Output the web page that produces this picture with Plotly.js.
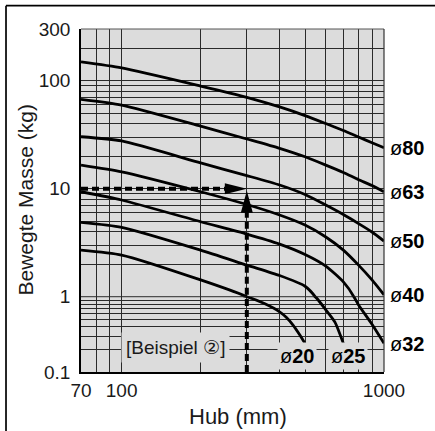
<!DOCTYPE html>
<html><head><meta charset="utf-8">
<script src="https://cdn.plot.ly/plotly-3.0.1.min.js"></script>
<style>html,body{margin:0;padding:0;background:#fff}</style>
</head><body><div id="chart" style="width:435px;height:431px"></div>
<script>
// ---- data ----
const bores = ['80', '63', '50', '40', '32', '25', '20'];
const stroke80 = [70, 100, 200, 300, 400, 500, 600, 700, 800, 900, 1000];
const mass80   = [149, 131, 89, 70, 57, 47.4, 40, 34.5, 30, 26.6, 23.9];
const stroke63 = [70, 100, 200, 300, 400, 500, 600, 700, 800, 900, 1000];
const mass63   = [67, 59.3, 37.9, 28.8, 23.6, 19.7, 16.5, 14.1, 12.1, 10.7, 9.36];
const stroke50 = [70, 100, 200, 300, 400, 500, 600, 700, 800, 900, 1000];
const mass50   = [30.2, 27.6, 17.3, 13.2, 10.8, 8.82, 7.05, 5.76, 4.75, 3.97, 3.27];
const stroke40 = [70, 100, 200, 300, 400, 500, 600, 700, 800, 900, 1000];
const mass40   = [16.5, 14.3, 9.36, 7.13, 5.7, 4.6, 3.57, 2.70, 1.96, 1.43, 1.04];
const stroke32 = [70, 100, 200, 300, 400, 500, 600, 700, 767, 800, 900, 1000];
const mass32   = [9.36, 7.85, 4.94, 3.80, 3.07, 2.46, 1.92, 1.37, 1.0, 0.776, 0.43, 0.24];
const stroke25 = [70, 100, 200, 300, 400, 500, 550, 600, 650, 700];
const mass25   = [4.88, 4.39, 2.70, 1.96, 1.57, 1.25, 0.98, 0.67, 0.46, 0.24];
const stroke20 = [70, 100, 200, 300, 350, 400, 425, 450, 475, 500];
const mass20   = [2.7, 2.43, 1.43, 1.0, 0.81, 0.63, 0.53, 0.42, 0.32, 0.24];

// example (Beispiel 2): stroke 300 mm, mass 10 kg
const exStroke = 300;
const exMass = 10;
const hGuideX = [70, 255];
const vGuideY = [0.1, 6.5];

const xTickVals = [70, 80, 90, 100, 200, 300, 400, 500, 600, 700, 800, 900, 1000];
const xTickText = ['70', '', '', '100', '', '', '', '', '', '', '', '', '1000'];
const yTickValsUpper = [1, 2, 3, 4, 5, 6, 7, 8, 9, 10, 20, 30, 40, 50, 60, 70, 80, 90, 100, 200, 300];
const yTickTextUpper = ['1', '', '', '', '', '', '', '', '', '10', '', '', '', '', '', '', '', '', '100', '', '300'];
const yTickValsLower = [0.1, 0.2, 0.3, 0.4, 0.5, 0.6, 0.7, 0.8, 0.9];
const yTickTextLower = ['0.1', '', '', '', '', '', '', '', ''];

// ---- styling ----
const FONT = 'Liberation Sans, Arial, Helvetica, DejaVu Sans, sans-serif';
const BG = '#dcdcdc';
const GRID = '#2a2a2a';
const SPLIT = 0.2195; // paper fraction where the compressed 0.1-1 decade ends

const curves = [
  [stroke80, mass80], [stroke63, mass63], [stroke50, mass50], [stroke40, mass40],
  [stroke32, mass32], [stroke25, mass25], [stroke20, mass20]
];

const traces = [];
curves.forEach(function (c) {
  const line = {color: '#000', width: 2.8, shape: 'spline', smoothing: 0.6};
  traces.push({x: c[0], y: c[1], xaxis: 'x2', yaxis: 'y', mode: 'lines', line: line, hoverinfo: 'skip'});
  traces.push({x: c[0], y: c[1], xaxis: 'x', yaxis: 'y2', mode: 'lines', line: line, hoverinfo: 'skip'});
});
const dashLine = {color: '#000', width: 4, dash: '7px,4px'};
traces.push({x: hGuideX, y: [exMass, exMass], xaxis: 'x2', yaxis: 'y', mode: 'lines', line: dashLine, hoverinfo: 'skip'});
traces.push({x: [exStroke, exStroke], y: vGuideY, xaxis: 'x2', yaxis: 'y', mode: 'lines', line: dashLine, hoverinfo: 'skip'});
traces.push({x: [exStroke, exStroke], y: vGuideY, xaxis: 'x', yaxis: 'y2', mode: 'lines', line: dashLine, hoverinfo: 'skip'});

const xRange = [Math.log10(70), Math.log10(1000)];
const tickFont = {family: FONT, size: 19, color: '#1a1a1a'};

const annotations = [];
// right-hand bore labels
curves.slice(0, 5).forEach(function (c, i) {
  const last = c[1][c[1].length - 1];
  const lower = last < 1;
  annotations.push({
    xref: 'paper', x: 1, xanchor: 'left', xshift: 4,
    yref: lower ? 'y2' : 'y', y: Math.log10(last), yanchor: 'middle', yshift: lower ? -1 : 0,
    text: 'ø<b>' + bores[i] + '</b>', showarrow: false,
    font: {family: FONT, size: 20, color: '#000'}
  });
});
// bottom bore labels (ø25, ø20)
[[5, 5], [6, -8]].forEach(function (p) {
  const c = curves[p[0]];
  const n = c[0].length - 1;
  annotations.push({
    xref: 'x', x: Math.log10(c[0][n]), xanchor: 'center', xshift: p[1],
    yref: 'y2', y: Math.log10(c[1][n]), yanchor: 'middle', yshift: -13,
    text: 'ø<b>' + bores[p[0]] + '</b>', showarrow: false,
    bgcolor: BG, borderpad: 2,
    font: {family: FONT, size: 20, color: '#000'}
  });
});
annotations.push({
  xref: 'paper', x: 0.312, yref: 'paper', y: 0.07, xanchor: 'center', yanchor: 'middle',
  text: '[Beispiel ②]', showarrow: false, bgcolor: BG, borderpad: 4,
  font: {family: FONT, size: 19, color: '#1a1a1a'}
});
annotations.push({
  xref: 'paper', x: 0.518, yref: 'paper', y: -0.131, xanchor: 'center', yanchor: 'middle',
  text: 'Hub (mm)', showarrow: false, font: {family: FONT, size: 22, color: '#1a1a1a'}
});
annotations.push({
  xref: 'paper', x: -0.1848, yref: 'paper', y: 0.5, xanchor: 'center', yanchor: 'middle',
  text: 'Bewegte Masse (kg)', textangle: -90, showarrow: false,
  font: {family: FONT, size: 21, color: '#1a1a1a'}
});

const shapes = [
  // edge grid lines (top 300, right 1000, decade boundary at 1)
  {type: 'line', xref: 'paper', yref: 'paper', x0: 0, x1: 1, y0: 1, y1: 1, line: {color: '#555', width: 1}},
  {type: 'line', xref: 'paper', yref: 'paper', x0: 1, x1: 1, y0: 0, y1: 1, line: {color: '#333', width: 1.2}},
  {type: 'line', xref: 'paper', yref: 'paper', x0: 0, x1: 1, y0: SPLIT, y1: SPLIT, line: {color: GRID, width: 1}, layer: 'below'},
  // arrow heads
  {type: 'path', xref: 'x2', yref: 'y', xsizemode: 'pixel', ysizemode: 'pixel',
   xanchor: exStroke, yanchor: exMass, path: 'M-22,-5.5L0,0L-22,5.5Z',
   fillcolor: '#000', line: {width: 0}},
  {type: 'path', xref: 'x2', yref: 'y', xsizemode: 'pixel', ysizemode: 'pixel',
   xanchor: exStroke, yanchor: exMass, path: 'M-6,-24L0,-2L6,-24Z',
   fillcolor: '#000', line: {width: 0}},
  // outer frame (top and left edges of the cropped box)
  {type: 'line', xref: 'paper', yref: 'paper', x0: -0.2475, x1: 1.25, y0: 1.068, y1: 1.068, line: {color: '#000', width: 1.7}},
  {type: 'line', xref: 'paper', yref: 'paper', x0: -0.2475, x1: -0.2475, y0: 1.068, y1: -0.25, line: {color: '#000', width: 1.7}}
];

const layout = {
  width: 435, height: 431,
  margin: {l: 81, r: 51, t: 29, b: 59, pad: 0},
  paper_bgcolor: '#fff', plot_bgcolor: BG,
  showlegend: false, hovermode: false,
  font: {family: FONT, size: 19, color: '#1a1a1a'},
  xaxis: {
    type: 'log', range: xRange, anchor: 'y2', domain: [0, 1],
    tickvals: xTickVals, ticktext: xTickText, ticks: '', ticklabelstandoff: 0,
    showgrid: true, gridcolor: GRID, gridwidth: 1, zeroline: false,
    showline: true, linecolor: '#000', linewidth: 1.8, tickfont: tickFont
  },
  xaxis2: {
    type: 'log', range: xRange, anchor: 'y', domain: [0, 1], matches: 'x',
    tickvals: xTickVals, showticklabels: false, ticks: '',
    showgrid: true, gridcolor: GRID, gridwidth: 1, zeroline: false, showline: false
  },
  yaxis: {
    type: 'log', range: [0, Math.log10(300)], domain: [SPLIT, 1], anchor: 'x2',
    tickvals: yTickValsUpper, ticktext: yTickTextUpper, ticks: '', ticklabelstandoff: 5,
    showgrid: true, gridcolor: GRID, gridwidth: 1, zeroline: false,
    showline: true, linecolor: '#000', linewidth: 1.8, tickfont: tickFont
  },
  yaxis2: {
    type: 'log', range: [-1, 0], domain: [0, SPLIT], anchor: 'x',
    tickvals: yTickValsLower, ticktext: yTickTextLower, ticks: '', ticklabelstandoff: 5,
    showgrid: true, gridcolor: GRID, gridwidth: 1, zeroline: false,
    showline: true, linecolor: '#000', linewidth: 1.8, tickfont: tickFont
  },
  annotations: annotations,
  shapes: shapes
};

Plotly.newPlot('chart', traces, layout, {staticPlot: true, displayModeBar: false});
</script>
</body></html>
